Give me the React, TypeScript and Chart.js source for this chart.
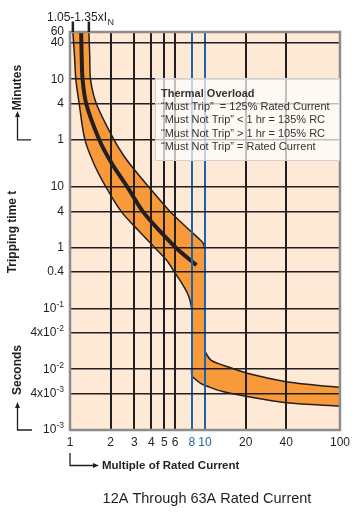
import React, { useEffect, useRef } from "react";
import { Chart, registerables } from "chart.js";

Chart.register(...registerables);

const FONT = '"Liberation Sans", Arial, Helvetica, sans-serif';
const INK = "#231f20";
const BLUE = "#1b63ad";

// x axis: multiple of rated current
const xTicks = [1, 2, 3, 4, 5, 6, 8, 10, 20, 40, 100];
const xTickLabels = ["1", "2", "3", "4", "5", "6", "8", "10", "20", "40", "100"];
const blueTicks = [8, 10];

// y axis: tripping time in seconds (60 min = 3600 s)
const yTicks = [3600, 2400, 600, 240, 60, 10, 4, 1, 0.4, 0.1, 0.04, 0.01, 0.004, 0.001];
const yTickBase = ["60", "40", "10", "4", "1", "10", "4", "1", "0.4", "10", "4x10", "10", "4x10", "10"];
const yTickSup = ["", "", "", "", "", "", "", "", "", "-1", "-2", "-2", "-3", "-3"];

// lower (left) boundary of the tripping band
const lowerX = [1.045, 1.05, 1.08, 1.105, 1.17, 1.29, 1.52, 1.84, 2.4, 3.24, 4.3, 5.19, 5.94, 6.79, 7.4, 7.8, 8, 8, 8, 8, 8.6, 9.35, 10.5, 13.5, 20.6, 40, 100, 130];
const lowerY = [5000, 3600, 1450, 590, 235, 60, 23, 10.2, 3.95, 1.9, 0.98, 0.63, 0.4, 0.254, 0.181, 0.128, 0.088, 0.03, 0.012, 0.0078, 0.0067, 0.0058, 0.0052, 0.0043, 0.00357, 0.00282, 0.00248, 0.0024];

// upper (right) boundary of the tripping band
const upperX = [1.375, 1.38, 1.4, 1.42, 1.57, 2.12, 2.48, 2.93, 3.82, 5.53, 7.52, 8.89, 9.67, 10, 10, 10, 10, 10.34, 11.06, 12.44, 14.72, 20.6, 40, 100, 130];
const upperY = [5000, 3600, 1450, 590, 235, 60, 33.9, 20.7, 10.2, 3.95, 2.05, 1.46, 1.2, 0.92, 0.63, 0.04, 0.0208, 0.0172, 0.0142, 0.0125, 0.011, 0.0086, 0.00625, 0.00504, 0.0049];

// "Must Trip" centre curve
const centerX = [1.205, 1.21, 1.22, 1.24, 1.32, 1.65, 2.03, 2.65, 3.47, 4.62, 6.17, 8.64];
const centerY = [5000, 3600, 1450, 590, 235, 60, 25, 10.2, 3.95, 1.9, 0.98, 0.52];

const bandMarks = [1.05, 1.38];

const legendTitle = "Thermal Overload";
const legendLines = [
  "\u201CMust Trip\u201D  = 125% Rated Current",
  "\u201CMust Not Trip\u201D < 1 hr = 135% RC",
  "\u201CMust Not Trip\u201D > 1 hr = 105% RC",
  "\u201CMust Not Trip\u201D = Rated Current",
];

const caption = "12A Through 63A Rated Current";

function arrowHead(ctx: CanvasRenderingContext2D, x: number, y: number, dir: "up" | "right") {
  ctx.beginPath();
  if (dir === "up") {
    ctx.moveTo(x, y);
    ctx.lineTo(x - 2.5, y + 6);
    ctx.lineTo(x + 2.5, y + 6);
  } else {
    ctx.moveTo(x, y);
    ctx.lineTo(x - 6, y - 2.5);
    ctx.lineTo(x - 6, y + 2.5);
  }
  ctx.closePath();
  ctx.fill();
}

function vText(ctx: CanvasRenderingContext2D, t: string, x: number, y: number, font: string) {
  ctx.save();
  ctx.translate(x, y);
  ctx.rotate(-Math.PI / 2);
  ctx.font = font;
  ctx.textAlign = "center";
  ctx.textBaseline = "alphabetic";
  ctx.fillText(t, 0, 0);
  ctx.restore();
}

const decoPlugin = {
  id: "deco",
  beforeDraw(chart: any) {
    const { ctx, chartArea: a } = chart;
    ctx.save();
    ctx.fillStyle = "#fee9d6";
    ctx.fillRect(a.left, a.top, a.right - a.left, a.bottom - a.top);
    ctx.restore();
  },
  afterDraw(chart: any) {
    const { ctx, chartArea: a } = chart;
    const xs = chart.scales.x;
    const ys = chart.scales.y;
    ctx.save();

    // plot frame
    ctx.strokeStyle = "#8d8d8d";
    ctx.lineWidth = 2.5;
    ctx.strokeRect(a.left, a.top, a.right - a.left, a.bottom - a.top);

    // y tick labels with superscripts
    ctx.fillStyle = INK;
    ctx.textBaseline = "middle";
    ctx.textAlign = "left";
    const right = a.left - 6;
    yTicks.forEach((v, i) => {
      const y = ys.getPixelForValue(v);
      const base = yTickBase[i];
      const sup = yTickSup[i];
      ctx.font = `12px ${FONT}`;
      const wb = ctx.measureText(base).width;
      ctx.font = `8.5px ${FONT}`;
      const ws = sup ? ctx.measureText(sup).width : 0;
      ctx.font = `12px ${FONT}`;
      ctx.fillText(base, right - wb - ws, y);
      if (sup) {
        ctx.font = `8.5px ${FONT}`;
        ctx.fillText(sup, right - ws, y - 4);
      }
    });

    // axis titles
    ctx.fillStyle = INK;
    vText(ctx, "Minutes", 20.5, 87.5, `bold 12px ${FONT}`);
    vText(ctx, "Tripping time t", 15.5, 232, `bold 12px ${FONT}`);
    vText(ctx, "Seconds", 20.5, 370, `bold 12px ${FONT}`);

    ctx.strokeStyle = INK;
    ctx.lineWidth = 1.3;
    const ymin = ys.getPixelForValue(60);
    ctx.beginPath();
    ctx.moveTo(31, ymin);
    ctx.lineTo(17.5, ymin);
    ctx.lineTo(17.5, 116);
    ctx.stroke();
    arrowHead(ctx, 17.5, 111, "up");

    ctx.beginPath();
    ctx.moveTo(32, a.bottom);
    ctx.lineTo(17.5, a.bottom);
    ctx.lineTo(17.5, 407);
    ctx.stroke();
    arrowHead(ctx, 17.5, 402, "up");

    ctx.beginPath();
    ctx.moveTo(a.left, 453);
    ctx.lineTo(a.left, 465.5);
    ctx.lineTo(93, 465.5);
    ctx.stroke();
    arrowHead(ctx, 99, 465.5, "right");

    ctx.font = `bold 11.5px ${FONT}`;
    ctx.textAlign = "left";
    ctx.textBaseline = "middle";
    ctx.fillText("Multiple of Rated Current", 102, 465.5);

    // caption
    ctx.font = `14.5px ${FONT}`;
    ctx.textAlign = "center";
    ctx.textBaseline = "middle";
    ctx.fillText(caption, 207, 499);

    // band label at top
    ctx.textAlign = "left";
    ctx.textBaseline = "alphabetic";
    ctx.font = `12px ${FONT}`;
    const lbl = "1.05-1.35xI";
    ctx.fillText(lbl, 47, 21);
    const wl = ctx.measureText(lbl).width;
    ctx.font = `9px ${FONT}`;
    ctx.fillText("N", 47 + wl + 0.5, 25);
    ctx.lineWidth = 2.5;
    bandMarks.forEach((m) => {
      const px = xs.getPixelForValue(m);
      ctx.beginPath();
      ctx.moveTo(px, 21.5);
      ctx.lineTo(px, a.top);
      ctx.stroke();
    });

    // legend box
    const bx = 155, by = 78, bw = a.right - 1 - 155, bh = 82;
    ctx.fillStyle = "rgba(255,255,255,0.72)";
    ctx.fillRect(bx, by, bw, bh);
    ctx.strokeStyle = "#d2d2d2";
    ctx.lineWidth = 1;
    ctx.strokeRect(bx + 0.5, by + 0.5, bw, bh);
    ctx.fillStyle = "#333333";
    ctx.textBaseline = "middle";
    ctx.font = `bold 11px ${FONT}`;
    ctx.fillText(legendTitle, 161, 93.5);
    ctx.font = `11px ${FONT}`;
    legendLines.forEach((t, i) => ctx.fillText(t, 161, 106.7 + i * 13.4));

    ctx.restore();
  },
};

export default function App() {
  const ref = useRef<HTMLCanvasElement>(null);

  useEffect(() => {
    const band = [
      ...lowerX.map((x, i) => ({ x, y: lowerY[i] })),
      ...upperX.map((x, i) => ({ x, y: upperY[i] })).reverse(),
    ];
    const center = centerX.map((x, i) => ({ x, y: centerY[i] }));

    const chart = new Chart(ref.current as HTMLCanvasElement, {
      type: "line",
      data: {
        datasets: [
          {
            data: center,
            order: 0,
            borderColor: INK,
            borderWidth: 4,
            fill: false,
            tension: 0.3,
            pointRadius: 0,
            borderCapStyle: "butt",
          },
          {
            data: band,
            order: 1,
            borderColor: INK,
            borderWidth: 1.5,
            backgroundColor: "#f8993a",
            fill: "shape",
            tension: 0.3,
            pointRadius: 0,
          },
        ],
      } as any,
      options: {
        responsive: false,
        animation: false,
        devicePixelRatio: 1,
        layout: { padding: { left: 8, right: 11, top: 32, bottom: 66 } },
        plugins: { legend: { display: false }, tooltip: { enabled: false } },
        elements: { point: { radius: 0 } },
        scales: {
          x: {
            type: "logarithmic",
            min: 1,
            max: 100,
            bounds: "data",
            afterBuildTicks: (s: any) => {
              s.ticks = xTicks.map((v) => ({ value: v }));
            },
            afterFit: (s: any) => {
              s.height = 20;
            },
            grid: {
              z: 1,
              drawTicks: false,
              color: (c: any) => {
                const v = c.tick && c.tick.value;
                if (v === 1 || v === 100) return "rgba(0,0,0,0)";
                return blueTicks.includes(v) ? BLUE : INK;
              },
              lineWidth: 2,
            },
            border: { display: false },
            ticks: {
              padding: 5,
              autoSkip: false,
              maxRotation: 0,
              font: { family: FONT, size: 12 },
              color: (c: any) => (blueTicks.includes(c.tick && c.tick.value) ? BLUE : INK),
              callback: (_v: any, i: number) => xTickLabels[i],
            },
          },
          y: {
            type: "logarithmic",
            min: 0.001,
            max: 3600,
            bounds: "data",
            afterBuildTicks: (s: any) => {
              s.ticks = yTicks.map((v) => ({ value: v }));
            },
            afterFit: (s: any) => {
              s.width = 62;
            },
            grid: {
              z: 1,
              drawTicks: false,
              color: (c: any) => {
                const v = c.tick && c.tick.value;
                if (v === 3600 || v === 0.001) return "rgba(0,0,0,0)";
                return INK;
              },
              lineWidth: 1.6,
            },
            border: { display: false },
            ticks: { display: false },
          },
        },
      } as any,
      plugins: [decoPlugin],
    });
    return () => chart.destroy();
  }, []);

  return (
    <div style={{ position: "absolute", left: 0, top: 0, width: 355, height: 516, background: "#fff" }}>
      <canvas ref={ref} width={355} height={516} style={{ display: "block", width: 355, height: 516 }} />
    </div>
  );
}
